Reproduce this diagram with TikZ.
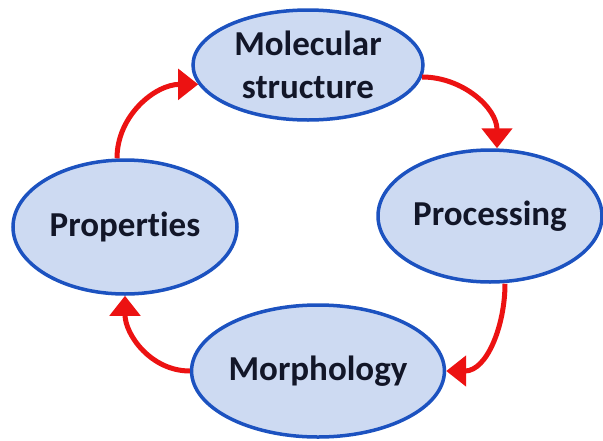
\documentclass[tikz,border=0pt]{standalone}
\usepackage{fontspec}
\setmainfont{Carlito}[Ligatures=NoCommon]
\usetikzlibrary{shapes.geometric,arrows.meta}
\definecolor{ellfill}{RGB}{205,218,242}
\definecolor{elldraw}{RGB}{28,82,192}
\definecolor{elltext}{RGB}{18,22,40}
\definecolor{arrred}{RGB}{236,18,18}
\begin{document}
\begin{tikzpicture}[x=1pt, y=-1pt,
    stage/.style={ellipse, draw=elldraw, fill=ellfill, line width=3.5pt,
      inner sep=0pt, text=elltext, align=center,
      font=\fontsize{35}{43}\selectfont\bfseries},
    cyc/.style={draw=arrred, line width=5pt,
      -{Triangle[width=30pt,length=20pt]}}]
  \useasboundingbox (0,0) rectangle (603,440);
  % the four stages of the cycle
  \node[stage, minimum width=230pt, minimum height=110pt] (mol) at (308,65) {Molecular\\structure};
  \node[stage, minimum width=224pt, minimum height=132pt] (proc) at (490,216) {Processing};
  \node[stage, minimum width=230pt, minimum height=132pt] (morph) at (318,371) {Morphology};
  \node[stage, minimum width=224pt, minimum height=134pt] (prop) at (125,227) {Properties};
  % red arrows running clockwise
  \draw[cyc] (mol.-6) to[out=0, in=90] ([xshift=7pt]proc.north);
  \draw[cyc] ([xshift=15pt]proc.south) to[out=-90, in=0] (morph.east);
  \draw[cyc] (morph.west) to[out=180, in=-90] (prop.south);
  \draw[cyc] ([xshift=-8pt]prop.north) to[out=90, in=180] (mol.190);
\end{tikzpicture}
\end{document}
